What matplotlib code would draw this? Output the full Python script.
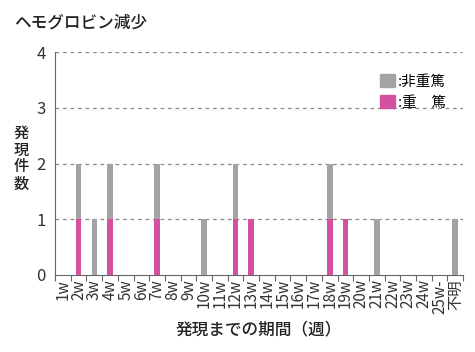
import numpy as np
import matplotlib
matplotlib.use("Agg")
import matplotlib.pyplot as plt
from matplotlib.patches import Patch

plt.rcParams['font.family'] = ['Noto Sans CJK JP', 'DejaVu Sans']

# categories (weeks until onset)
weeks = [f"{i}w" for i in range(1, 25)] + ["25w-", "不明"]
# serious cases
serious = [0, 1, 0, 1, 0, 0, 1, 0, 0, 0, 0, 1, 1, 0, 0, 0, 0, 1, 1, 0, 0, 0, 0, 0, 0, 0]
# non-serious cases
non_serious = [0, 1, 1, 1, 0, 0, 1, 0, 0, 1, 0, 1, 0, 0, 0, 0, 0, 1, 0, 0, 1, 0, 0, 0, 0, 1]

pink = "#d4519f"
gray = "#a3a3a3"

fig = plt.figure(figsize=(4.75, 3.52), dpi=100)
ax = fig.add_axes([0.116, 0.219, 0.859, 0.633])

x = np.arange(len(weeks)) + 0.5
ax.bar(x, serious, width=0.36, color=pink, zorder=3)
ax.bar(x, non_serious, width=0.36, bottom=serious, color=gray, zorder=3)

ax.set_xlim(0, len(weeks))
ax.set_ylim(0, 4)
ax.set_yticks([0, 1, 2, 3, 4])
ax.tick_params(axis='y', length=0, labelsize=12, colors="#333333", pad=7)
for y in [1, 2, 3, 4]:
    ax.axhline(y, color="#888888", lw=0.9, ls=(0, (3, 3)), zorder=1)

# boundary ticks without labels, labels at category centers
ax.set_xticks(np.arange(len(weeks) + 1))
ax.set_xticklabels([])
ax.set_xticks(x, minor=True)
ax.set_xticklabels(weeks, minor=True, rotation=90, fontsize=11, color="#333333")
ax.tick_params(axis='x', which='major', length=4, color="#666666", direction='out')
ax.tick_params(axis='x', which='minor', length=0, pad=3)

for s in ['top', 'right']:
    ax.spines[s].set_visible(False)
ax.spines['left'].set_color("#666666")
ax.spines['bottom'].set_color("#666666")

handles = [Patch(color=gray), Patch(color=pink)]
ax.legend(handles, [":非重篤", ":重　篤"], loc='upper right', frameon=False,
          fontsize=10.5, handlelength=1.0, handleheight=1.0, handletextpad=0.2,
          bbox_to_anchor=(0.99, 0.96), labelspacing=0.45)

fig.text(0.03, 0.935, "ヘモグロビン減少", fontsize=12, color="#222222",
         va='center', fontweight='medium')
fig.text(0.045, 0.55, "\n".join("発現件数"), fontsize=11, color="#222222",
         va='center', ha='center', linespacing=1.0, fontweight='medium')
fig.text(0.545, 0.065, "発現までの期間（週）", fontsize=12, color="#222222",
         va='center', ha='center', fontweight='medium')

fig.savefig("out.png", dpi=100)
